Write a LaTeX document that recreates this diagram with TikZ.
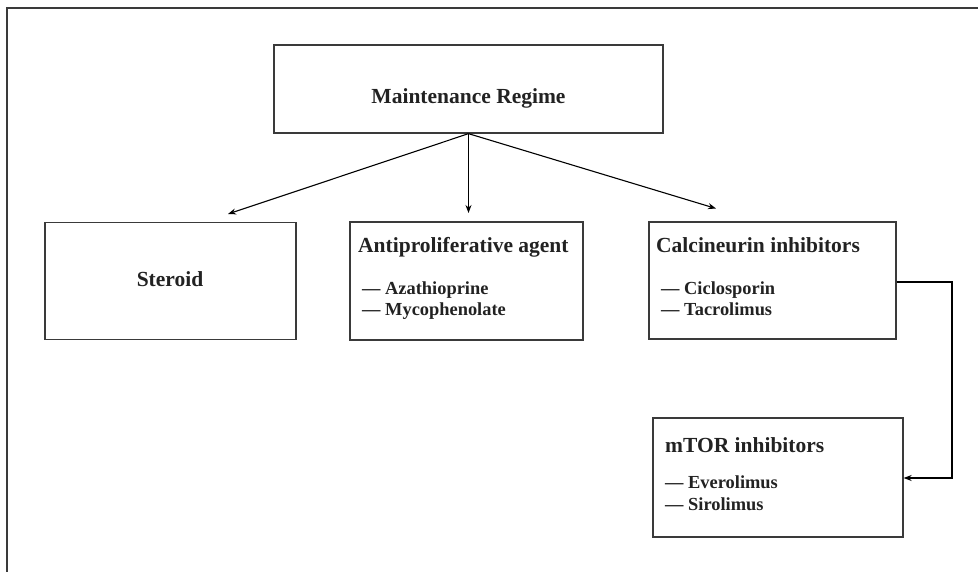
\documentclass[tikz,border=0pt]{standalone}
\usepackage{fontspec}
\setmainfont{Liberation Serif}
\usetikzlibrary{arrows.meta}
\definecolor{linec}{HTML}{3A3A3A}
\definecolor{textc}{HTML}{222222}
\tikzset{
  box/.style={draw=linec, line width=1.3pt, rectangle, inner sep=0pt},
  head/.style={anchor=base west, inner sep=0pt, text=textc, font=\fontsize{21.5}{25}\selectfont\bfseries},
  item/.style={anchor=base west, inner sep=0pt, text=textc, font=\fontsize{18.4}{21}\selectfont\bfseries},
  conn/.style={draw=black, line width=1.1pt, -{Stealth[length=8pt,width=6pt]}},
  frame/.style={draw=linec, line width=1.6pt}
}
\begin{document}
\begin{tikzpicture}[x=1pt,y=-1pt]
\useasboundingbox (0,0) rectangle (978,572);
% outer frame (open at right and bottom)
\coordinate (fr1) at (978,8);
\coordinate (fr2) at (7,8);
\coordinate (fr3) at (7,572);
\draw[frame] (fr1) -- (fr2) -- (fr3);
% boxes
\node[box, minimum width=389pt, minimum height=88pt] (main) at (468.5,89) {};
\node[box, minimum width=251pt, minimum height=117pt] (ster) at (170.5,281) {};
\node[box, minimum width=233pt, minimum height=118pt] (anti) at (466.5,281) {};
\node[box, minimum width=247pt, minimum height=117pt] (calc) at (772.5,280.5) {};
\node[box, minimum width=250pt, minimum height=119pt] (mtor) at (778,477.5) {};
% texts
\node[head, anchor=base] (tmain) at (468.5,103.5) {Maintenance Regime};
\node[head, anchor=base] (tster) at (170,286.5) {Steroid};
\node[head] (tanti) at (358,253) {Antiproliferative agent};
\node[item] (aza) at (362,295) {— Azathioprine};
\node[item] (myc) at (362,316) {— Mycophenolate};
\node[head] (tcalc) at (656,253) {Calcineurin inhibitors};
\node[item] (cic) at (661,295) {— Ciclosporin};
\node[item] (tac) at (661,316) {— Tacrolimus};
\node[head] (tmtor) at (665,452) {mTOR inhibitors};
\node[item] (eve) at (665,488) {— Everolimus};
\node[item] (sir) at (665,510) {— Sirolimus};
% connectors
\coordinate (eL) at (228,214);
\coordinate (eM) at (468.5,213);
\coordinate (eR) at (716,208.5);
\draw[conn] (main.south) -- (eL);
\draw[conn] (main.south) -- (eM);
\draw[conn] (main.south) -- (eR);
\coordinate (c1) at (calc.east |- 0,282);
\coordinate (c2) at (952,282);
\coordinate (c3) at (952,478);
\coordinate (c4) at (mtor.east |- 0,478);
\draw[conn] (c1) -- (c2) -- (c3) -- (c4);
\end{tikzpicture}
\end{document}
